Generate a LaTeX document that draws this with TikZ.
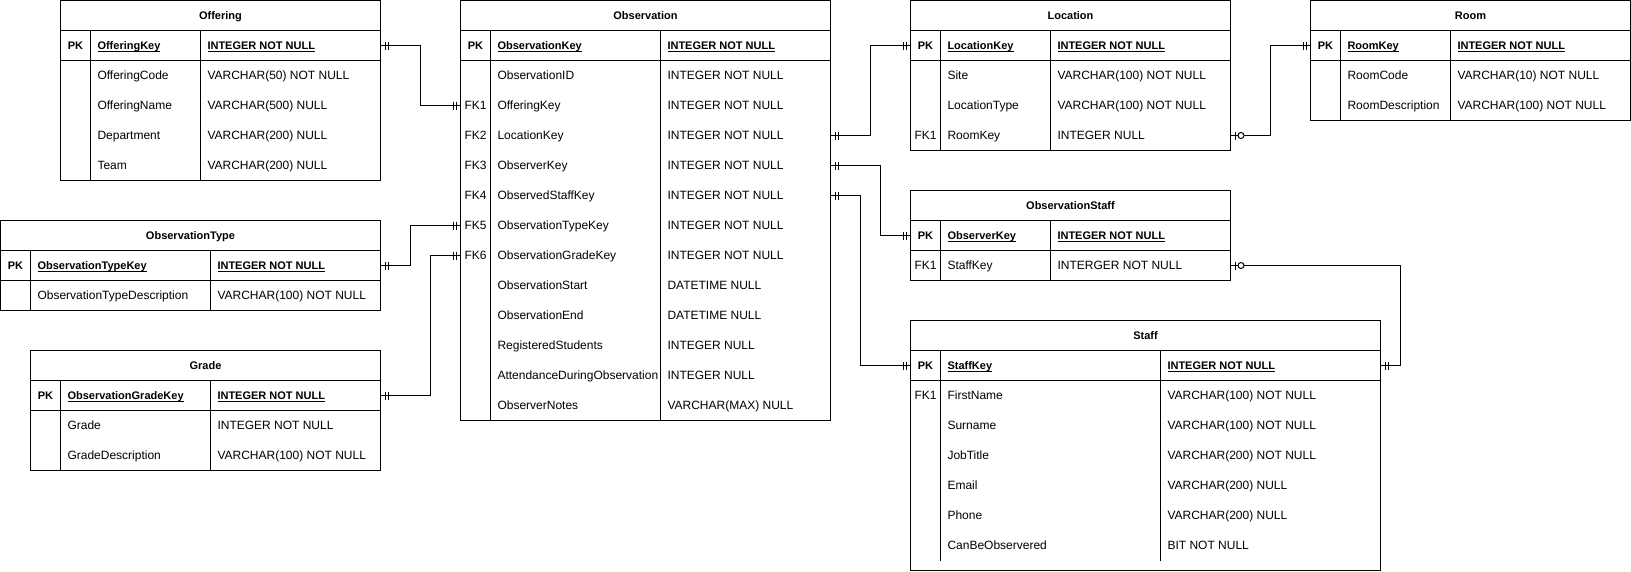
\documentclass[tikz,border=0pt]{standalone}
\usepackage{fontspec}
\setmainfont{Liberation Sans}
\usetikzlibrary{calc}
\newsavebox\erulbox
\newcommand\erul[1]{\sbox\erulbox{#1}\rlap{\rule[-2.4pt]{\wd\erulbox}{0.9pt}}\usebox\erulbox}
\newcommand\erfont{\fontsize{12pt}{14pt}\selectfont}
\newcommand\erbold{\fontsize{11pt}{13pt}\selectfont\bfseries}
\tikzset{
  rowspan/.style={minimum height=30pt, inner sep=0pt, outer sep=0pt},
  cell/.style={inner sep=0pt, outer sep=0pt, text height=8.6pt, text depth=0pt, font=\erfont},
  bcell/.style={inner sep=0pt, outer sep=0pt, text height=7.9pt, text depth=0pt, font=\erbold},
  lcell/.style={cell, anchor=west},
  lbcell/.style={bcell, anchor=west},
  tbox/.style={draw, line width=1pt, inner sep=0pt, outer sep=0pt},
  tline/.style={line width=1pt, black},
  conn/.style={line width=1pt, black},
}
\newcommand\ertable[9]{%
  \def\erN{#1}\def\erX{#2}\def\erY{#3}\def\erWa{#4}\def\erWb{#5}\def\erWc{#6}%
  \pgfmathsetmacro\erW{#4+#5+#6}%
  \pgfmathsetmacro\erSa{#2+#4}%
  \pgfmathsetmacro\erSb{#2+#4+#5}%
  \pgfmathsetmacro\erR{#2+\erW}%
  \def\erK{0}%
  \node[bcell] (#1-title) at ({#2+\erW/2},{#3+15}) {#7};
  \pgfmathsetmacro\erRow{#3+45}%
  \node[rowspan, minimum width=\erW pt] (#1-pk) at ({#2+\erW/2},\erRow) {};
  \node[bcell] (#1-pk-k) at ({#2+#4/2},\erRow) {PK};
  \node[lbcell] (#1-pk-f) at ({\erSa+7},\erRow) {\erul{#8}};
  \node[lbcell] (#1-pk-t) at ({\erSb+7},\erRow) {\erul{#9}};
}
\newcommand\errow[4]{%
  \pgfmathsetmacro\erRow{\erY+75+30*\erK}%
  \node[rowspan, minimum width=\erW pt] (\erN-#1) at ({\erX+\erW/2},\erRow) {};
  \node[cell] (\erN-#1-k) at ({\erX+\erWa/2},\erRow) {#2};
  \node[lcell] (\erN-#1-f) at ({\erSa+7},\erRow) {#3};
  \node[lcell] (\erN-#1-t) at ({\erSb+7},\erRow) {#4};
  \pgfmathtruncatemacro\erK{\erK+1}%
}
\newcommand\erend[1]{%
  \pgfmathsetmacro\erBot{\erY+60+30*\erK}%
  \pgfmathsetmacro\erH{60+30*\erK+#1}%
  \node[tbox, minimum width=\erW pt, minimum height=\erH pt, anchor=north west] (\erN-box) at (\erX,\erY) {};
  \draw[tline] (\erX,\erY+30) -- (\erR,\erY+30) (\erX,\erY+60) -- (\erR,\erY+60)
    (\erSa,\erY+30) -- (\erSa,\erBot) (\erSb,\erY+30) -- (\erSb,\erBot);
}
\newcommand\mandone[2]{%
  \draw[conn] ($(#1)+({4.5*#2},-4)$) -- ++(0,8) ($(#1)+({7.5*#2},-4)$) -- ++(0,8);
}
\newcommand\zeroone[2]{%
  \draw[conn] ($(#1)+({4.5*#2},-4)$) -- ++(0,8);
  \draw[conn, fill=white] ($(#1)+({10.5*#2},0)$) circle[radius=3pt];
}
\begin{document}
\begin{tikzpicture}[x=1pt, y=-1pt]
\useasboundingbox (0,0) rectangle (1631,571);

% Offering
\ertable{off}{60.5}{0.5}{30}{110}{180}{Offering}{OfferingKey}{INTEGER NOT NULL}
\errow{code}{}{OfferingCode}{VARCHAR(50) NOT NULL}
\errow{name}{}{OfferingName}{VARCHAR(500) NULL}
\errow{dept}{}{Department}{VARCHAR(200) NULL}
\errow{team}{}{Team}{VARCHAR(200) NULL}
\erend{0}

% Observation
\ertable{obs}{460.5}{0.5}{30}{170}{170}{Observation}{ObservationKey}{INTEGER NOT NULL}
\errow{id}{}{ObservationID}{INTEGER NOT NULL}
\errow{fk1}{FK1}{OfferingKey}{INTEGER NOT NULL}
\errow{fk2}{FK2}{LocationKey}{INTEGER NOT NULL}
\errow{fk3}{FK3}{ObserverKey}{INTEGER NOT NULL}
\errow{fk4}{FK4}{ObservedStaffKey}{INTEGER NOT NULL}
\errow{fk5}{FK5}{ObservationTypeKey}{INTEGER NOT NULL}
\errow{fk6}{FK6}{ObservationGradeKey}{INTEGER NOT NULL}
\errow{start}{}{ObservationStart}{DATETIME NULL}
\errow{end}{}{ObservationEnd}{DATETIME NULL}
\errow{reg}{}{RegisteredStudents}{INTEGER NULL}
\errow{att}{}{AttendanceDuringObservation}{INTEGER NULL}
\errow{notes}{}{ObserverNotes}{VARCHAR(MAX) NULL}
\erend{0}

% Location
\ertable{loc}{910.5}{0.5}{30}{110}{180}{Location}{LocationKey}{INTEGER NOT NULL}
\errow{site}{}{Site}{VARCHAR(100) NOT NULL}
\errow{type}{}{LocationType}{VARCHAR(100) NOT NULL}
\errow{fk1}{FK1}{RoomKey}{INTEGER NULL}
\erend{0}

% Room
\ertable{room}{1310.5}{0.5}{30}{110}{180}{Room}{RoomKey}{INTEGER NOT NULL}
\errow{code}{}{RoomCode}{VARCHAR(10) NOT NULL}
\errow{desc}{}{RoomDescription}{VARCHAR(100) NOT NULL}
\erend{0}

% ObservationType
\ertable{otype}{0.5}{220.5}{30}{180}{170}{ObservationType}{ObservationTypeKey}{INTEGER NOT NULL}
\errow{desc}{}{ObservationTypeDescription}{VARCHAR(100) NOT NULL}
\erend{0}

% Grade
\ertable{grade}{30.5}{350.5}{30}{150}{170}{Grade}{ObservationGradeKey}{INTEGER NOT NULL}
\errow{grade}{}{Grade}{INTEGER NOT NULL}
\errow{desc}{}{GradeDescription}{VARCHAR(100) NOT NULL}
\erend{0}

% ObservationStaff
\ertable{ostaff}{910.5}{190.5}{30}{110}{180}{ObservationStaff}{ObserverKey}{INTEGER NOT NULL}
\errow{fk1}{FK1}{StaffKey}{INTERGER NOT NULL}
\erend{0}

% Staff
\ertable{staff}{910.5}{320.5}{30}{220}{220}{Staff}{StaffKey}{INTEGER NOT NULL}
\errow{fk1}{FK1}{FirstName}{VARCHAR(100) NOT NULL}
\errow{sur}{}{Surname}{VARCHAR(100) NOT NULL}
\errow{job}{}{JobTitle}{VARCHAR(200) NOT NULL}
\errow{email}{}{Email}{VARCHAR(200) NULL}
\errow{phone}{}{Phone}{VARCHAR(200) NULL}
\errow{can}{}{CanBeObservered}{BIT NOT NULL}
\erend{10}

% connectors
\draw[conn] (off-pk.east) -- ++(40,0) |- (obs-fk1.west);
\draw[conn] (obs-fk2.east) -- ++(40,0) |- (loc-pk.west);
\draw[conn] (obs-fk3.east) -- ++(50,0) |- (ostaff-pk.west);
\draw[conn] (obs-fk4.east) -- ++(30,0) |- (staff-pk.west);
\draw[conn] (otype-pk.east) -- ++(30,0) |- (obs-fk5.west);
\draw[conn] (grade-pk.east) -- ++(50,0) |- (obs-fk6.west);
\draw[conn] (loc-fk1.east) -- ++(40,0) |- (room-pk.west);
\draw[conn] (ostaff-fk1.east) -- ++(170,0) |- (staff-pk.east);

% markers
\mandone{off-pk.east}{1}
\mandone{obs-fk1.west}{-1}
\mandone{obs-fk2.east}{1}
\mandone{loc-pk.west}{-1}
\mandone{obs-fk3.east}{1}
\mandone{ostaff-pk.west}{-1}
\mandone{obs-fk4.east}{1}
\mandone{staff-pk.west}{-1}
\mandone{otype-pk.east}{1}
\mandone{obs-fk5.west}{-1}
\mandone{grade-pk.east}{1}
\mandone{obs-fk6.west}{-1}
\zeroone{loc-fk1.east}{1}
\mandone{room-pk.west}{-1}
\zeroone{ostaff-fk1.east}{1}
\mandone{staff-pk.east}{1}
\end{tikzpicture}
\end{document}
